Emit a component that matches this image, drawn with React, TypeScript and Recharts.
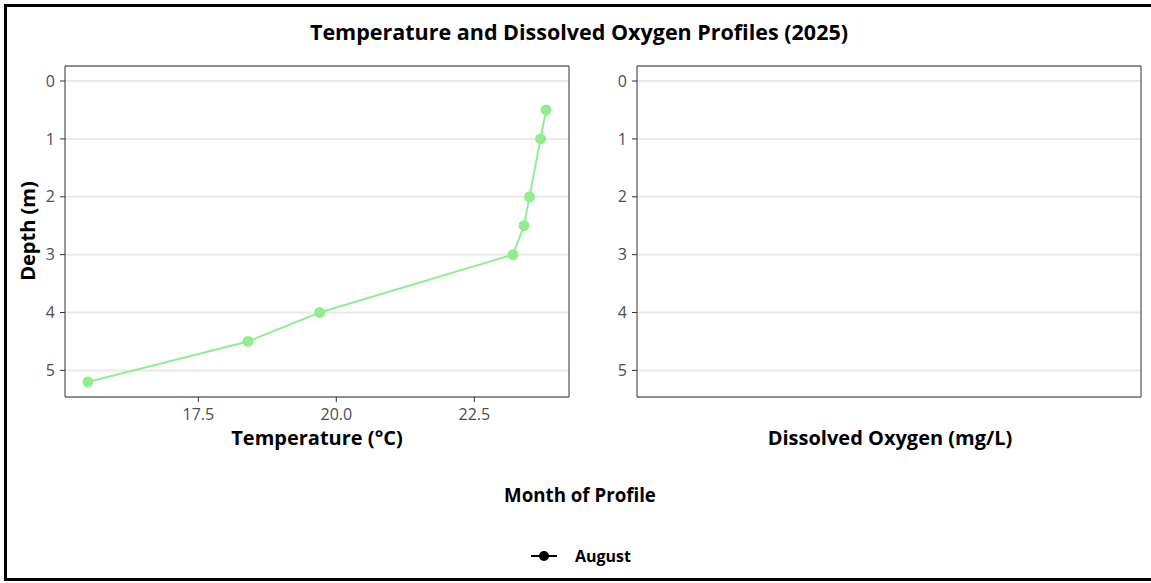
import React from "react";
import { LineChart, Line, XAxis, YAxis, CartesianGrid, ReferenceArea } from "recharts";

// ---- data ----
const depths = [0.5, 1, 2, 2.5, 3, 4, 4.5, 5.2];
const augustTemp = [23.8, 23.7, 23.5, 23.4, 23.2, 19.7, 18.4, 15.5];
const doValues: (number | null)[] = [null, null, null, null, null, null, null, null];
const depthTicks = [0, 1, 2, 3, 4, 5];
const tempTicks = [17.5, 20.0, 22.5];
const depthDomain: [number, number] = [-0.26, 5.46];
const tempDomain: [number, number] = [15.085, 24.215];
const doDomain: [number, number] = [0, 1];
const seriesName = "August";
const seriesColor = "#90ee90";

const tempData = depths.map((d, i) => ({ depth: d, temp: augustTemp[i] }));
const doData = depths.map((d, i) => ({ depth: d, oxy: doValues[i] }));

const FONT = "'Open Sans', Lato, sans-serif";
const tickStyle = { fill: "#4d4d4d", fontSize: 16, fontFamily: FONT };

function Panel({ data, xKey, xDomain, xTicks, showXTicks, withLine }: any) {
  return (
    <LineChart
      width={600}
      height={460}
      data={data}
      margin={{ top: 66, right: 31, bottom: 33, left: 0 }}
    >
      <CartesianGrid vertical={false} stroke="#ebe8e8" strokeWidth={2} />
      <XAxis
        type="number"
        dataKey={xKey}
        domain={xDomain}
        ticks={xTicks}
        allowDataOverflow
        height={30}
        tick={showXTicks ? tickStyle : false}
        tickLine={showXTicks ? { stroke: "#333" } : false}
        axisLine={false}
        tickSize={5}
        tickMargin={7}
        tickFormatter={(v: number) => v.toFixed(1)}
      />
      <YAxis
        type="number"
        dataKey="depth"
        domain={depthDomain}
        ticks={depthTicks}
        reversed
        allowDataOverflow
        width={65}
        tick={tickStyle}
        tickLine={{ stroke: "#333" }}
        axisLine={false}
        tickSize={5}
        tickMargin={5}
      />
      <ReferenceArea
        x1={xDomain[0]}
        x2={xDomain[1]}
        y1={depthDomain[0]}
        y2={depthDomain[1]}
        fill="none"
        stroke="#333"
        strokeWidth={1}
        ifOverflow="visible"
      />
      {withLine && (
        <Line
          type="linear"
          dataKey="depth"
          name={seriesName}
          stroke={seriesColor}
          strokeWidth={2}
          dot={{ r: 5.5, fill: seriesColor, stroke: seriesColor, strokeWidth: 0 }}
          isAnimationActive={false}
        />
      )}
    </LineChart>
  );
}

const txt = (extra: any): any => ({
  position: "absolute",
  fontFamily: FONT,
  fontWeight: 700,
  color: "#000",
  whiteSpace: "nowrap",
  lineHeight: 1,
  ...extra,
});

export default function App() {
  return (
    <div
      style={{
        position: "fixed",
        left: 0,
        top: 0,
        width: 1151,
        height: 583,
        background: "#fff",
        overflow: "hidden",
      }}
    >
      <div
        style={{
          position: "absolute",
          left: 4,
          top: 4,
          width: 1160,
          height: 571,
          border: "3px solid #000",
        }}
      />
      <div style={txt({ left: 579, top: 32, fontSize: 21.5, transform: "translate(-50%,-50%)" })}>
        Temperature and Dissolved Oxygen Profiles (2025)
      </div>
      <div style={{ position: "absolute", left: 0, top: 0 }}>
        <Panel data={tempData} xKey="temp" xDomain={tempDomain} xTicks={tempTicks} showXTicks withLine />
      </div>
      <div style={{ position: "absolute", left: 572, top: 0 }}>
        <Panel data={doData} xKey="oxy" xDomain={doDomain} xTicks={[]} showXTicks={false} withLine={false} />
      </div>
      <div style={txt({ left: 317, top: 438, fontSize: 20, transform: "translate(-50%,-50%)" })}>
        Temperature (°C)
      </div>
      <div style={txt({ left: 890, top: 438, fontSize: 20, transform: "translate(-50%,-50%)" })}>
        Dissolved Oxygen (mg/L)
      </div>
      <div
        style={txt({
          left: 28,
          top: 231,
          fontSize: 20,
          transform: "translate(-50%,-50%) rotate(-90deg)",
        })}
      >
        Depth (m)
      </div>
      <div style={txt({ left: 580, top: 495, fontSize: 18.7, transform: "translate(-50%,-50%)" })}>
        Month of Profile
      </div>
      <svg style={{ position: "absolute", left: 528, top: 546 }} width={32} height={20}>
        <line x1={3} y1={10} x2={29} y2={10} stroke="#000" strokeWidth={2} />
        <circle cx={16} cy={10} r={5} fill="#000" />
      </svg>
      <div style={txt({ left: 575, top: 556, fontSize: 16, transform: "translateY(-50%)" })}>
        {seriesName}
      </div>
    </div>
  );
}
